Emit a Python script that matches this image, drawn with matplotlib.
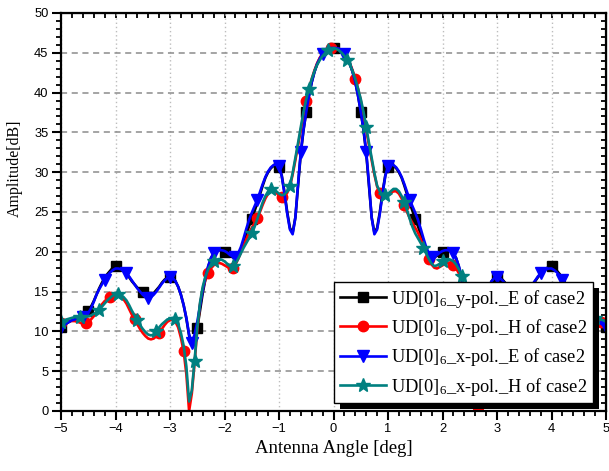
import numpy as np
import matplotlib.pyplot as plt
from matplotlib.ticker import MultipleLocator, NullFormatter
from matplotlib.patches import Rectangle

# antenna angle grid, 0.05 deg step
angle = np.round(np.arange(-5, 5.0001, 0.05), 2)

y_pol_e = [
    10.5, 10.8, 11.0, 11.2, 11.4, 11.5, 11.6, 11.8, 12.0, 12.2,
    12.6, 13.1, 13.8, 14.6, 15.4, 16.1, 16.7, 17.2, 17.6, 18.0,
    18.2, 18.1, 17.9, 17.6, 17.2, 16.8, 16.3, 15.9, 15.5, 15.2,
    15.0, 14.8, 14.6, 14.6, 14.8, 15.2, 15.6, 16.1, 16.5, 16.7,
    16.8, 16.7, 16.3, 15.6, 14.6, 13.3, 11.6, 9.5, 8.4, 9.0,
    10.4, 12.6, 14.8, 16.6, 18.1, 19.2, 19.8, 20.1, 20.2, 20.2,
    20.0, 19.8, 19.5, 19.3, 19.3, 19.6, 20.3, 21.2, 22.2, 23.2,
    24.1, 25.1, 26.1, 27.2, 28.3, 29.3, 30.0, 30.5, 30.8, 30.8,
    30.7, 29.6, 27.5, 25.0, 23.0, 22.4, 24.3, 28.4, 32.4, 35.3,
    37.6, 39.6, 41.3, 42.6, 43.6, 44.3, 44.9, 45.3, 45.5, 45.6,
    45.6,
    45.6, 45.5, 45.3, 44.9, 44.3, 43.6, 42.6, 41.3, 39.6, 37.6,
    35.3, 32.4, 28.4, 24.3, 22.4, 23.0, 25.0, 27.5, 29.6, 30.7,
    30.8, 30.8, 30.5, 30.0, 29.3, 28.3, 27.2, 26.1, 25.1, 24.1,
    23.2, 22.2, 21.2, 20.3, 19.6, 19.3, 19.3, 19.5, 19.8, 20.0,
    20.2, 20.2, 20.1, 19.8, 19.2, 18.1, 16.6, 14.8, 12.6, 10.4,
    9.0, 8.4, 9.5, 11.6, 13.3, 14.6, 15.6, 16.3, 16.7, 16.8,
    16.7, 16.5, 16.1, 15.6, 15.2, 14.8, 14.6, 14.6, 14.8, 15.0,
    15.2, 15.5, 15.9, 16.3, 16.8, 17.2, 17.6, 17.9, 18.1, 18.2,
    18.0, 17.6, 17.2, 16.7, 16.1, 15.4, 14.6, 13.8, 13.1, 12.6,
    12.2, 12.0, 11.8, 11.6, 11.5, 11.4, 11.2, 11.0, 10.8, 10.5,
]

y_pol_h = [
    11.0, 11.1, 11.2, 11.3, 11.3, 11.3, 11.2, 11.1, 11.0, 11.1,
    11.2, 11.5, 11.9, 12.4, 12.9, 13.4, 13.8, 14.1, 14.3, 14.5,
    14.5, 14.5, 14.3, 14.0, 13.5, 12.8, 12.1, 11.5, 10.9, 10.3,
    9.8, 9.4, 9.1, 9.0, 9.1, 9.4, 9.8, 10.3, 10.8, 11.2,
    11.4, 11.5, 11.2, 10.5, 9.2, 7.5, 4.6, 0.0, 2.2, 6.0,
    10.2, 13.4, 15.3, 16.5, 17.3, 17.9, 18.3, 18.5, 18.6, 18.5,
    18.3, 18.1, 17.9, 18.0, 18.4, 19.1, 19.9, 20.8, 21.6, 22.4,
    23.0, 23.6, 24.2, 25.0, 25.9, 26.7, 27.3, 27.6, 27.6, 27.4,
    27.1, 26.9, 27.0, 27.4, 28.2, 29.7, 31.5, 33.4, 35.3, 37.2,
    39.0, 40.5, 41.7, 42.8, 43.7, 44.4, 44.9, 45.3, 45.5, 45.6,
    45.7,
    45.6, 45.5, 45.3, 44.9, 44.4, 43.7, 42.8, 41.7, 40.5, 39.0,
    37.2, 35.3, 33.4, 31.5, 29.7, 28.2, 27.4, 27.0, 26.9, 27.1,
    27.4, 27.6, 27.6, 27.3, 26.7, 25.9, 25.0, 24.2, 23.6, 23.0,
    22.4, 21.6, 20.8, 19.9, 19.1, 18.4, 18.0, 17.9, 18.1, 18.3,
    18.5, 18.6, 18.5, 18.3, 17.9, 17.3, 16.5, 15.3, 13.4, 10.2,
    6.0, 2.2, 0.0, 4.6, 7.5, 9.2, 10.5, 11.2, 11.5, 11.4,
    11.2, 10.8, 10.3, 9.8, 9.4, 9.1, 9.0, 9.1, 9.4, 9.8,
    10.3, 10.9, 11.5, 12.1, 12.8, 13.5, 14.0, 14.3, 14.5, 14.5,
    14.5, 14.3, 14.1, 13.8, 13.4, 12.9, 12.4, 11.9, 11.5, 11.2,
    11.1, 11.0, 11.1, 11.2, 11.3, 11.3, 11.3, 11.2, 11.1, 11.0,
]

x_pol_e = [
    10.5, 10.8, 11.0, 11.2, 11.4, 11.5, 11.6, 11.7, 11.8, 12.0,
    12.3, 12.9, 13.7, 14.6, 15.3, 15.9, 16.5, 17.0, 17.4, 17.7,
    17.9, 17.9, 17.8, 17.6, 17.3, 16.9, 16.4, 15.9, 15.4, 15.0,
    14.6, 14.3, 14.2, 14.3, 14.6, 15.0, 15.5, 16.0, 16.4, 16.7,
    16.8, 16.7, 16.3, 15.6, 14.6, 13.3, 11.7, 9.6, 8.6, 9.6,
    11.2, 13.2, 15.2, 16.8, 18.2, 19.2, 19.8, 20.1, 20.2, 20.2,
    20.1, 19.9, 19.6, 19.4, 19.4, 19.8, 20.6, 21.7, 22.9, 24.0,
    24.9, 25.7, 26.5, 27.5, 28.5, 29.4, 30.1, 30.6, 30.9, 31.0,
    30.8, 29.5, 27.3, 24.8, 22.8, 22.2, 24.3, 28.6, 32.6, 35.4,
    37.6, 39.6, 41.3, 42.6, 43.6, 44.3, 44.9, 45.3, 45.5, 45.6,
    45.6,
    45.6, 45.5, 45.3, 44.9, 44.3, 43.6, 42.6, 41.3, 39.6, 37.6,
    35.4, 32.6, 28.6, 24.3, 22.2, 22.8, 24.8, 27.3, 29.5, 30.8,
    31.0, 30.9, 30.6, 30.1, 29.4, 28.5, 27.5, 26.5, 25.7, 24.9,
    24.0, 22.9, 21.7, 20.6, 19.8, 19.4, 19.4, 19.6, 19.9, 20.1,
    20.2, 20.2, 20.1, 19.8, 19.2, 18.2, 16.8, 15.2, 13.2, 11.2,
    9.6, 8.6, 9.6, 11.7, 13.3, 14.6, 15.6, 16.3, 16.7, 16.8,
    16.7, 16.4, 16.0, 15.5, 15.0, 14.6, 14.3, 14.2, 14.3, 14.6,
    15.0, 15.4, 15.9, 16.4, 16.9, 17.3, 17.6, 17.8, 17.9, 17.9,
    17.7, 17.4, 17.0, 16.5, 15.9, 15.3, 14.6, 13.7, 12.9, 12.3,
    12.0, 11.8, 11.7, 11.6, 11.5, 11.4, 11.2, 11.0, 10.8, 10.5,
]

x_pol_h = [
    11.2, 11.4, 11.5, 11.6, 11.7, 11.8, 11.8, 11.8, 11.8, 11.8,
    11.9, 12.0, 12.2, 12.4, 12.7, 13.1, 13.5, 13.9, 14.2, 14.5,
    14.6, 14.7, 14.6, 14.3, 13.9, 13.3, 12.6, 12.0, 11.4, 10.8,
    10.3, 9.9, 9.6, 9.5, 9.6, 10.0, 10.5, 10.9, 11.2, 11.5,
    11.6, 11.7, 11.5, 10.9, 9.8, 8.2, 5.6, 1.2, 2.6, 6.3,
    10.4, 13.6, 15.6, 16.9, 17.8, 18.4, 18.8, 19.0, 19.1, 19.0,
    18.8, 18.5, 18.3, 18.2, 18.5, 19.1, 19.8, 20.5, 21.1, 21.7,
    22.3, 23.1, 24.1, 25.2, 26.2, 27.0, 27.6, 27.9, 27.9, 27.6,
    27.3, 27.1, 27.2, 27.6, 28.3, 29.9, 31.8, 33.7, 35.7, 37.6,
    39.2, 40.5, 41.7, 42.7, 43.5, 44.1, 44.6, 45.0, 45.3, 45.5,
    45.6,
    45.5, 45.3, 45.0, 44.6, 44.1, 43.5, 42.7, 41.7, 40.5, 39.2,
    37.6, 35.7, 33.7, 31.8, 29.9, 28.3, 27.6, 27.2, 27.1, 27.3,
    27.6, 27.9, 27.9, 27.6, 27.0, 26.2, 25.2, 24.1, 23.1, 22.3,
    21.7, 21.1, 20.5, 19.8, 19.1, 18.5, 18.2, 18.3, 18.5, 18.8,
    19.0, 19.1, 19.0, 18.8, 18.4, 17.8, 16.9, 15.6, 13.6, 10.4,
    6.3, 2.6, 1.2, 5.6, 8.2, 9.8, 10.9, 11.5, 11.7, 11.6,
    11.5, 11.2, 10.9, 10.5, 10.0, 9.6, 9.5, 9.6, 9.9, 10.3,
    10.8, 11.4, 12.0, 12.6, 13.3, 13.9, 14.3, 14.6, 14.7, 14.6,
    14.5, 14.2, 13.9, 13.5, 13.1, 12.7, 12.4, 12.2, 12.0, 11.9,
    11.8, 11.8, 11.8, 11.8, 11.8, 11.7, 11.6, 11.5, 11.4, 11.2,
]

labels = [
    'UD[0]$_6$_y-pol._E of case2',
    'UD[0]$_6$_y-pol._H of case2',
    'UD[0]$_6$_x-pol._E of case2',
    'UD[0]$_6$_x-pol._H of case2',
]


def main():
    plt.rcParams['font.family'] = ['Liberation Sans', 'DejaVu Sans']
    plt.rcParams['mathtext.default'] = 'regular'

    fig = plt.figure(figsize=(6.09, 4.71), dpi=100)
    ax = fig.add_axes([0.1002, 0.1274, 0.8949, 0.845])

    styles = [
        (y_pol_e, 'black', 's', 7, 10),
        (y_pol_h, 'red', 'o', 7.5, 9),
        (x_pol_e, 'blue', 'v', 8.5, 8),
        (x_pol_h, '#008080', '*', 10, 7),
    ]
    for (vals, col, mk, ms, every), lab in zip(styles, labels):
        ax.plot(angle, vals, color=col, lw=1.9, marker=mk, ms=ms,
                markevery=every, mec=col, mfc=col, label=lab)

    ax.set_xlim(-5, 5)
    ax.set_ylim(0, 50)
    ax.xaxis.set_major_locator(MultipleLocator(1))
    ax.xaxis.set_minor_locator(MultipleLocator(0.2))
    ax.yaxis.set_major_locator(MultipleLocator(5))
    ax.yaxis.set_minor_locator(MultipleLocator(1))

    ax.set_axisbelow(True)
    ax.xaxis.grid(True, ls=(0, (1, 2)), color='#bdbdbd', lw=1)
    ax.yaxis.grid(True, ls=(0, (4, 3)), color='#8c8c8c', lw=1.1)

    for sp in ax.spines.values():
        sp.set_linewidth(1.6)
    ax.tick_params(which='major', direction='out', length=6.5, width=1.5,
                   labelsize=9.3, pad=2.5)
    ax.tick_params(which='minor', direction='out', length=3.3, width=1.3)

    # inward ticks on the top and right edges
    top = ax.secondary_xaxis('top')
    top.xaxis.set_major_locator(MultipleLocator(1))
    top.xaxis.set_minor_locator(MultipleLocator(0.2))
    top.xaxis.set_major_formatter(NullFormatter())
    top.tick_params(which='both', direction='in', length=3.5, width=1.3)
    right = ax.secondary_yaxis('right')
    right.yaxis.set_major_locator(MultipleLocator(5))
    right.yaxis.set_minor_locator(MultipleLocator(1))
    right.yaxis.set_major_formatter(NullFormatter())
    right.tick_params(which='both', direction='in', length=3.5, width=1.3)

    ax.set_xlabel('Antenna Angle [deg]', family='Liberation Serif', size=13.5,
                  labelpad=3)
    ax.set_ylabel('Amplitude[dB]', family='Liberation Serif', size=11.5)
    ax.yaxis.set_label_coords(-0.070, 0.61)

    leg = ax.legend(loc='lower right', bbox_to_anchor=(0.976, 0.02),
                    prop={'family': 'Liberation Serif', 'size': 13.2},
                    frameon=True, fancybox=False, edgecolor='black',
                    framealpha=1, handlelength=2.5, handletextpad=0.3,
                    borderpad=0.3, labelspacing=0.4, borderaxespad=0)
    leg.get_frame().set_linewidth(1.0)
    leg.set_zorder(6)

    # solid black drop shadow behind the legend box
    fig.canvas.draw()
    bb = leg.get_window_extent().transformed(fig.transFigure.inverted())
    dx, dy = 6 / 609, 6 / 471
    shadow = Rectangle((bb.x0 + dx, bb.y0 - dy), bb.width, bb.height,
                       transform=fig.transFigure, facecolor='black',
                       edgecolor='none', zorder=5.5)
    ax.add_artist(shadow)
    shadow.set_clip_on(False)

    fig.savefig('out.png', dpi=100)


if __name__ == '__main__':
    main()
